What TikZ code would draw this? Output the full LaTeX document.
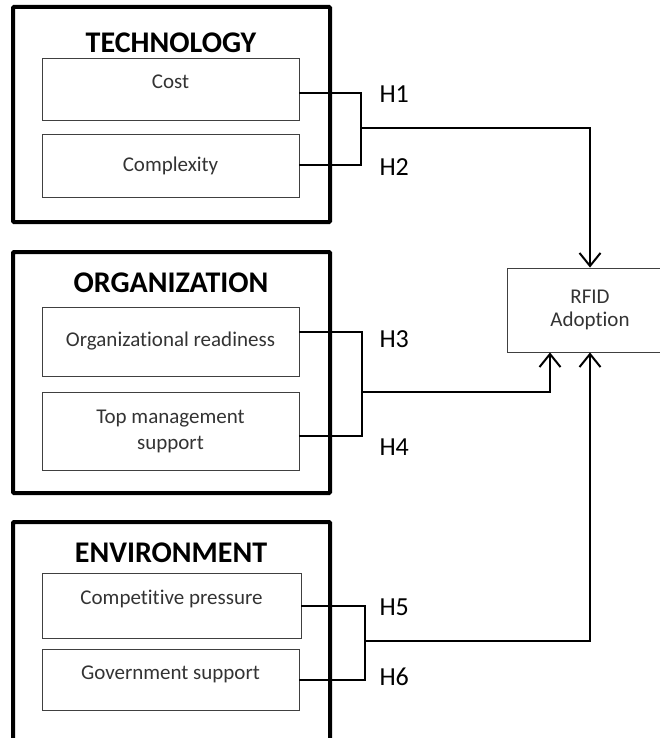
\documentclass[tikz,border=0pt]{standalone}
\usepackage{fontspec}
\setmainfont{Carlito}[Ligatures={NoCommon}]
\usetikzlibrary{arrows.meta}

\tikzset{
  group/.style={draw, line width=4pt, rounded corners=1pt, minimum width=317pt},
  grouptitle/.style={font=\fontsize{30}{33}\selectfont\bfseries},
  factor/.style={draw=black!75, line width=0.9pt, minimum width=257pt, text=black!80,
    align=center, font=\fontsize{21}{26}\selectfont},
  hyp/.style={anchor=west, font=\fontsize{26}{30}\selectfont},
  link/.style={line width=2pt},
  arrow/.style={line width=2pt, -{Straight Barb[length=13pt,width=21pt,line width=2pt]}}
}

\begin{document}
\begin{tikzpicture}[x=1pt,y=-1pt]
  \useasboundingbox (0,0) rectangle (660,738);

  % outer groups
  \node[group, minimum height=215pt] (tech) at (171.5,114.5) {};
  \node[group, minimum height=241pt] (org) at (171.5,372.5) {};
  \node[group, minimum height=219pt] (env) at (171.5,631.5) {};
  \node[grouptitle] (techtitle) at (171,43) {TECHNOLOGY};
  \node[grouptitle] (orgtitle) at (171,283) {ORGANIZATION};
  \node[grouptitle] (envtitle) at (171,553) {ENVIRONMENT};

  % factors
  \node[factor, minimum height=62pt, text depth=14pt] (cost) at (170.5,89) {Cost};
  \node[factor, minimum height=63pt] (cplx) at (170.5,165.5) {Complexity};
  \node[factor, minimum height=69pt] (ready) at (170.5,341.5) {Organizational readiness};
  \node[factor, minimum height=78pt] (topm) at (170.5,431) {Top management\\support};
  \node[factor, minimum height=65pt, minimum width=259pt, text depth=16pt] (comp) at (171.5,605.5) {Competitive pressure};
  \node[factor, minimum height=61pt, text depth=14pt] (gov) at (170.5,679.5) {Government support};

  \node[factor, minimum width=166pt, minimum height=84pt, font=\fontsize{21}{23}\selectfont] (rfid) at (590,310) {RFID\\Adoption};

  % hypotheses
  \node[hyp] (h1) at (376,94) {H1};
  \node[hyp] (h2) at (376,167) {H2};
  \node[hyp] (h3) at (376,339) {H3};
  \node[hyp] (h4) at (376,447) {H4};
  \node[hyp] (h5) at (376,607) {H5};
  \node[hyp] (h6) at (376,677) {H6};

  \coordinate (j1) at (361,128);
  \coordinate (j2) at (362,392);
  \coordinate (j3) at (365,641);

  \begin{scope}[link]
    \draw ([yshift=-4pt]cost.east) -| (j1) |- (cplx.east);
    \draw ([yshift=9.5pt]ready.east) -| (j2) |- ([yshift=-5pt]topm.east);
    \draw (comp.east) -| (j3) |- (gov.east);
  \end{scope}
  \begin{scope}[arrow]
    \draw (j1) -| (rfid.north);
    \draw (j2) -| ([xshift=-40pt]rfid.south);
    \draw (j3) -| (rfid.south);
  \end{scope}
\end{tikzpicture}
\end{document}
